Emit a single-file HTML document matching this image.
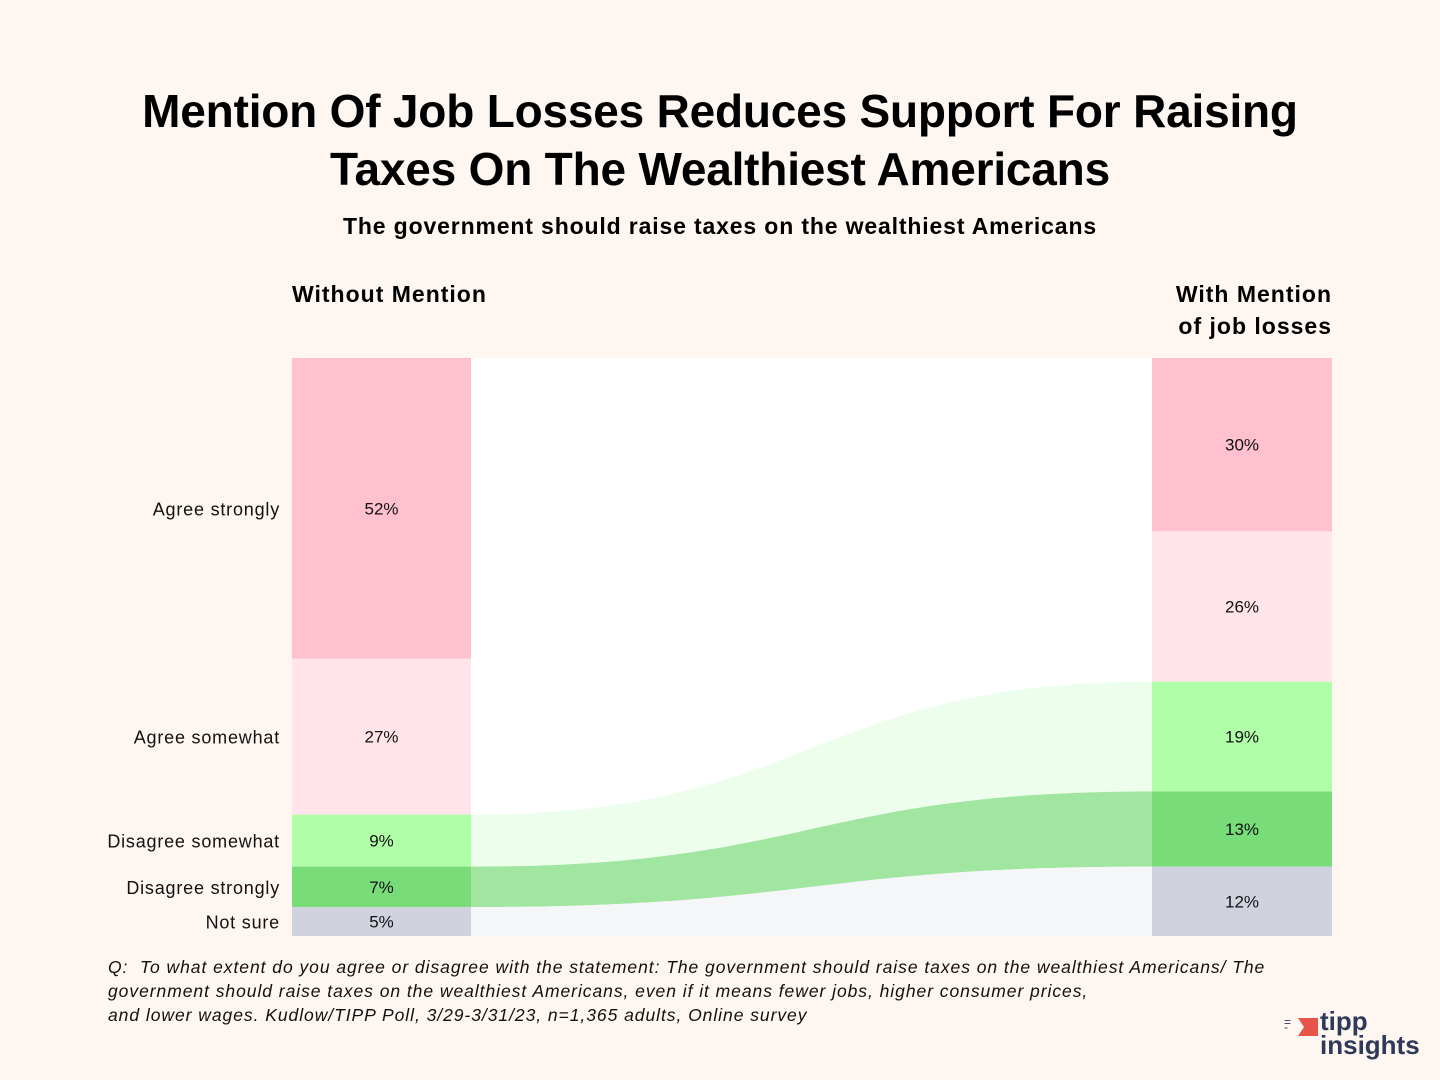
<!DOCTYPE html>
<html><head><meta charset="utf-8"><style>
body{margin:0;background:#fef6f0;font-family:"Liberation Sans",sans-serif;}
#wrap{position:relative;width:1440px;height:1080px;overflow:hidden;background:#fef6f0;}
.t{position:absolute;left:0;width:1440px;text-align:center;color:#000;}
</style></head><body>
<div id="wrap">
<div class="t" style="top:82px;font-size:46px;font-weight:bold;line-height:58px;letter-spacing:-0.2px;">Mention Of Job Losses Reduces Support For Raising<br>Taxes On The Wealthiest Americans</div>
<div class="t" style="top:213px;font-size:23px;font-weight:bold;letter-spacing:0.85px;">The government should raise taxes on the wealthiest Americans</div>
<svg id="chart" width="1440" height="1080" style="position:absolute;left:0;top:0"></svg>
<div style="position:absolute;left:108px;top:955px;font-size:17.5px;font-style:italic;line-height:24px;color:#111;letter-spacing:0.95px;white-space:nowrap;">Q:&nbsp; To what extent do you agree or disagree with the statement: The government should raise taxes on the wealthiest Americans/ The<br>government should raise taxes on the wealthiest Americans, even if it means fewer jobs, higher consumer prices,<br>and lower wages. Kudlow/TIPP Poll, 3/29-3/31/23, n=1,365 adults, Online survey</div>
<div style="position:absolute;left:1284px;top:1012px;width:140px;height:50px;">
<div style="position:absolute;left:14px;top:6px;width:20px;height:18px;background:#e8534a;clip-path:polygon(0 0,100% 0,100% 100%,0 100%,30% 50%);"></div>
<div style="position:absolute;left:0;top:8px;color:#2f3a5a;font-size:12px;line-height:5px;">=<br>-</div>
<div style="position:absolute;left:36px;top:-4px;color:#2f3a5a;font-weight:bold;font-size:26px;line-height:26px;">tipp</div>
<div style="position:absolute;left:36px;top:20px;color:#2f3a5a;font-weight:bold;font-size:26px;line-height:26px;">insights</div>
</div>
</div>
<script>
const categories=["Agree strongly","Agree somewhat","Disagree somewhat","Disagree strongly","Not sure"];
const withoutMention=[52,27,9,7,5];
const withMention=[30,26,19,13,12];
const colors=["#ffc0cf","#ffe4ea","#b0ffa8","#78dc78","#d0d2de"];
const flowColors=["#ffffff","#ffffff","#edfeed","#a0e6a0","#f5f6f8"];
const svg=document.getElementById('chart');
const NS="http://www.w3.org/2000/svg";
const top0=358,bot0=936,L0=292,L1=471,R0=1152,R1=1332;
function y(v){return top0+(bot0-top0)*v/100;}
function mk(t,a){const e=document.createElementNS(NS,t);for(const k in a)e.setAttribute(k,a[k]);svg.appendChild(e);return e;}
const bg=mk('rect',{x:L1,y:top0,width:R0-L1,height:bot0-top0,fill:'#fff'});


let cl=0,cr=0;const mx=(L1+R0)/2;
categories.forEach((c,i)=>{
  const a0=y(cl),a1=y(cl+withoutMention[i]),b0=y(cr),b1=y(cr+withMention[i]);
  const p=mk('path',{d:`M${L1},${a0} C${mx},${a0} ${mx},${b0} ${R0},${b0} L${R0},${b1} C${mx},${b1} ${mx},${a1} ${L1},${a1} Z`,fill:flowColors[i]});
  
  
  const r1=mk('rect',{x:L0,y:a0,width:L1-L0,height:a1-a0,fill:colors[i]});
  
  
  const r2=mk('rect',{x:R0,y:b0,width:R1-R0,height:b1-b0,fill:colors[i]});
  
  
  const t1=mk('text',{x:(L0+L1)/2,y:(a0+a1)/2+6,'text-anchor':'middle','font-size':17,fill:'#111'});
  t1.textContent=withoutMention[i]+'%';
  
  
  const t2=mk('text',{x:(R0+R1)/2,y:(b0+b1)/2+6,'text-anchor':'middle','font-size':17,fill:'#111'});
  t2.textContent=withMention[i]+'%';
  
  
  const t3=mk('text',{x:280,y:(a0+a1)/2+7,'text-anchor':'end','font-size':18,fill:'#111','letter-spacing':'0.8'});
  t3.textContent=c;
  
  
  cl+=withoutMention[i];cr+=withMention[i];
});
const h1=mk('text',{x:292,y:302,'font-size':23,'font-weight':'bold',fill:'#000','letter-spacing':'1'});h1.textContent='Without Mention';


const h2=mk('text',{x:1332,y:302,'font-size':23,'font-weight':'bold','text-anchor':'end',fill:'#000','letter-spacing':'1'});h2.textContent='With Mention';


const h3=mk('text',{x:1332,y:334,'font-size':23,'font-weight':'bold','text-anchor':'end',fill:'#000','letter-spacing':'1'});h3.textContent='of job losses';


</script>
</body></html>
